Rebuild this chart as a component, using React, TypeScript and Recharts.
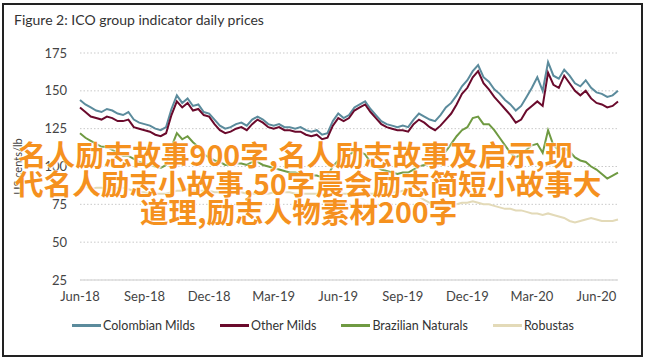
import { LineChart, Line, XAxis, YAxis, CartesianGrid } from 'recharts';

// sample points every quarter month, months since Jun-18
const months = [
  0, 0.25, 0.5, 0.75, 1, 1.25, 1.5, 1.75, 2, 2.25, 2.5, 2.75, 3, 3.25, 3.5, 3.75, 4, 4.25, 4.5, 4.75,
  5, 5.25, 5.5, 5.75, 6, 6.25, 6.5, 6.75, 7, 7.25, 7.5, 7.75, 8, 8.25, 8.5, 8.75, 9, 9.25, 9.5, 9.75,
  10, 10.25, 10.5, 10.75, 11, 11.25, 11.5, 11.75, 12, 12.25, 12.5, 12.75, 13, 13.25, 13.5, 13.75,
  14, 14.25, 14.5, 14.75, 15, 15.25, 15.5, 15.75, 16, 16.25, 16.5, 16.75, 17, 17.25, 17.5, 17.75,
  18, 18.25, 18.5, 18.75, 19, 19.25, 19.5, 19.75, 20, 20.25, 20.5, 20.75, 21, 21.25, 21.5, 21.75,
  22, 22.25, 22.5, 22.75, 23, 23.25, 23.5, 23.75, 24, 24.25, 24.5, 24.75, 25,
];

const colombianMilds = [
  144, 141, 139, 137, 136, 138, 137, 135, 134, 136, 131, 129, 128, 127, 125, 124, 126, 138, 147, 142,
  145, 140, 141, 136, 135, 131, 127, 125, 126, 128, 129, 127, 131, 133, 131, 128, 127, 128, 126, 126,
  125, 126, 124, 123, 124, 121, 122, 130, 135, 132, 134, 139, 141, 143, 138, 134,
  130, 128, 127, 126, 127, 126, 131, 135, 133, 131, 130, 134, 139, 142, 147, 153,
  157, 163, 167, 159, 156, 151, 148, 144, 141, 137, 140, 146, 152, 159, 150, 169,
  160, 158, 164, 160, 155, 153, 157, 152, 149, 148, 146, 147, 150,
];

const otherMilds = [
  139, 136, 133, 132, 131, 133, 132, 130, 130, 131, 126, 125, 124, 123, 121, 120, 122, 134, 143, 139,
  142, 137, 138, 134, 133, 128, 124, 122, 123, 125, 126, 124, 128, 131, 129, 126, 125, 126, 124, 124,
  123, 123, 121, 120, 121, 118, 119, 127, 132, 130, 132, 137, 139, 141, 136, 132,
  128, 126, 125, 124, 124, 123, 128, 131, 129, 126, 124, 127, 131, 135, 141, 148,
  152, 159, 163, 155, 151, 146, 142, 138, 134, 129, 131, 137, 140, 143, 140, 162,
  154, 152, 160, 155, 150, 147, 150, 145, 142, 141, 139, 140, 143,
];

const brazilianNaturals = [
  122, 119, 117, 115, 113, 113, 111, 109, 107, 107, 105, 103, 102, 101, 100, 99, 101, 113, 122, 118,
  120, 116, 113, 108, 106, 104, 103, 101, 101, 102, 102, 101, 103, 103, 101, 100, 99, 98, 97, 96,
  96, 95, 95, 94, 94, 93, 94, 100, 104, 105, 107, 111, 110, 108, 103, 100,
  98, 97, 96, 95, 96, 96, 98, 100, 101, 102, 104, 107, 110, 115, 120, 124,
  126, 132, 133, 128, 128, 124, 119, 114, 109, 106, 108, 111, 114, 115, 109, 124,
  114, 111, 112, 110, 106, 104, 103, 100, 98, 95, 92, 94, 96,
];

const robustas = [
  86, 87, 85, 86, 86, 85, 85, 86, 86, 85, 84, 83, 83, 82, 82, 82, 82, 83, 84, 84,
  85, 84, 84, 84, 84, 83, 83, 84, 84, 83, 83, 82, 82, 82, 82, 82, 83, 83, 83, 83,
  82, 82, 82, 82, 82, 82, 81, 82, 82, 82, 82, 82, 82, 81, 82, 82,
  82, 82, 83, 83, 84, 84, 82, 80, 78, 76, 75, 75, 75, 75, 75, 76,
  76, 77, 76, 75, 75, 74, 73, 72, 72, 71, 71, 70, 69, 69, 68, 69,
  68, 67, 66, 64, 63, 64, 65, 66, 65, 64, 64, 64, 65,
];

const tickMonths = [0, 3, 6, 9, 12, 15, 18, 21, 24];
const tickLabels = ['Jun-18', 'Sep-18', 'Dec-18', 'Mar-19', 'Jun-19', 'Sep-19', 'Dec-19', 'Mar-20', 'Jun-20'];
const yTicks = [25, 50, 75, 100, 125, 150, 175];

const series = [
  { key: 'robustas', name: 'Robustas', color: '#e3dab8' },
  { key: 'brazilian', name: 'Brazilian Naturals', color: '#6f9a42' },
  { key: 'colombian', name: 'Colombian Milds', color: '#5b8b9c' },
  { key: 'other', name: 'Other Milds', color: '#6a0a2c' },
];
const legendOrder = ['colombian', 'other', 'brazilian', 'robustas'];

const overlayLines = [
  { text: '名人励志故事900字,名人励志故事及启示,现', left: 18, top: 139 },
  { text: '代名人励志小故事,50字晨会励志简短小故事大', left: 15, top: 168 },
  { text: '道理,励志人物素材200字', left: 140, top: 196 },
];

const data = months.map((m, i) => ({
  m,
  colombian: colombianMilds[i],
  other: otherMilds[i],
  brazilian: brazilianNaturals[i],
  robustas: robustas[i],
}));

const font = 'Lato, "Open Sans", sans-serif';

export default function App() {
  return (
    <div style={{ position: 'absolute', left: 0, top: 0, width: 646, height: 360, background: '#fff', fontFamily: font }}>
      <div
        style={{
          position: 'absolute',
          left: 2,
          top: 3,
          width: 637,
          height: 350,
          border: '2px solid #222',
        }}
      />
      <div style={{ position: 'absolute', left: 14, top: 11, fontSize: 14, color: '#333' }}>
        Figure 2: ICO group indicator daily prices
      </div>
      <div style={{ position: 'absolute', left: 0, top: 0 }}>
        <LineChart width={646} height={360} data={data} margin={{ top: 53, right: 28, bottom: 50, left: 20 }}>
          <CartesianGrid vertical={false} stroke="#c9c9c9" strokeDasharray="1.5 2" />
          <XAxis
            dataKey="m"
            type="number"
            domain={[0, 25]}
            ticks={tickMonths}
            tickFormatter={(v: number) => tickLabels[tickMonths.indexOf(v)]}
            axisLine={{ stroke: '#dcdcdc', strokeWidth: 1.5 }}
            tickLine={false}
            tickMargin={6}
            height={30}
            tick={{ fill: '#444', fontSize: 13, fontFamily: font }}
          />
          <YAxis
            type="number"
            domain={[25, 175]}
            ticks={yTicks}
            axisLine={false}
            tickLine={false}
            tickMargin={7}
            width={60}
            tick={{ fill: '#444', fontSize: 13, fontFamily: font }}
            label={{
              value: 'US cents/lb',
              angle: -90,
              position: 'insideLeft',
              offset: -2,
              style: { fill: '#444', fontSize: 11, fontFamily: font, textAnchor: 'middle' },
            }}
          />
          {series.map((s) => (
            <Line
              key={s.key}
              dataKey={s.key}
              name={s.name}
              stroke={s.color}
              strokeWidth={2}
              dot={false}
              type="linear"
              isAnimationActive={false}
            />
          ))}
        </LineChart>
      </div>
      <div
        style={{
          position: 'absolute',
          left: 0,
          top: 318,
          width: 646,
          display: 'flex',
          justifyContent: 'center',
          gap: 25,
          fontSize: 12.5,
          color: '#333',
        }}
      >
        {legendOrder.map((k) => {
          const s = series.find((x) => x.key === k)!;
          return (
            <div key={k} style={{ display: 'flex', alignItems: 'center' }}>
              <span style={{ display: 'inline-block', width: 29, height: 2.5, background: s.color, marginRight: 2 }} />
              <span>{s.name}</span>
            </div>
          );
        })}
      </div>
      {overlayLines.map((l, i) => (
        <div
          key={i}
          style={{
            position: 'absolute',
            left: l.left,
            top: l.top,
            whiteSpace: 'nowrap',
            fontFamily: '"Noto Sans CJK SC", sans-serif',
            fontWeight: 700,
            fontSize: 28.6,
            lineHeight: '29px',
            color: '#f5911e',
            textShadow: '0 0 2px #fff, 0 0 2px #fff, 1px 1px 2px #fff',
          }}
        >
          {l.text}
        </div>
      ))}
    </div>
  );
}
